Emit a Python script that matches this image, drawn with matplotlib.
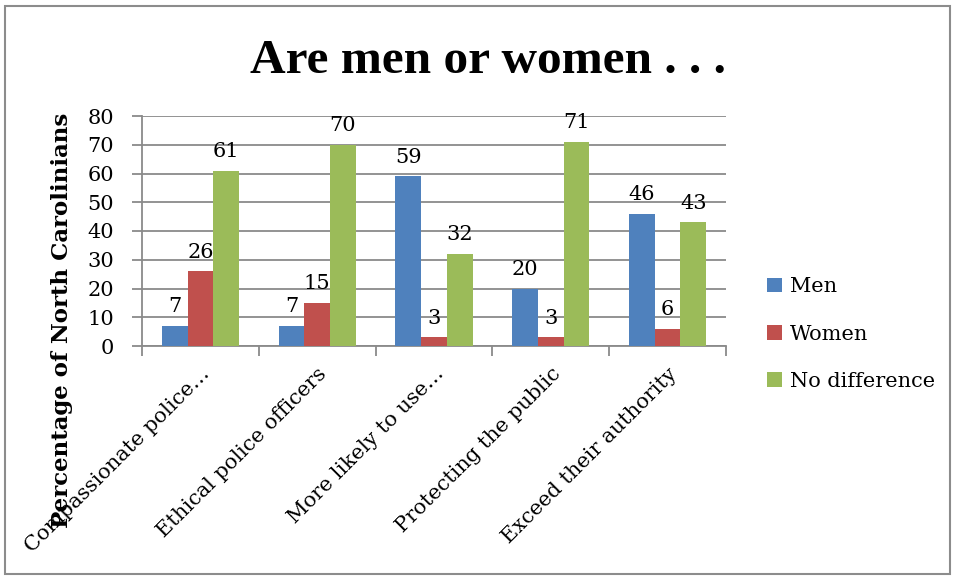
import numpy as np
import matplotlib.pyplot as plt
from matplotlib.patches import Rectangle
from matplotlib.transforms import ScaledTranslation

categories = ["Compassionate police\u2026", "Ethical police officers", "More likely to use\u2026",
              "Protecting the public", "Exceed their authority"]
men = [7, 7, 59, 20, 46]
women = [26, 15, 3, 3, 6]
no_difference = [61, 70, 32, 71, 43]

series = [("Men", men, "#4F81BD"),
          ("Women", women, "#C0504D"),
          ("No difference", no_difference, "#9BBB59")]

plt.rcParams['font.family'] = ['DejaVu Serif']

W, H = 956, 580
fig = plt.figure(figsize=(W / 100, H / 100), dpi=100)

# outer frame of the chart
fig.patches.append(Rectangle((5 / W, 6 / H), 945 / W, 568 / H, transform=fig.transFigure,
                             fill=False, edgecolor="#8c8c8c", linewidth=1.5))

ax = fig.add_axes([142 / W, 1 - 346 / H, (726 - 142) / W, (346 - 116) / H])

grid_color = "#8a8a8a"
x = np.arange(len(categories))
width = 0.22
for i, (name, vals, color) in enumerate(series):
    pos = x + (i - 1) * width
    bars = ax.bar(pos, vals, width=width, color=color, label=name, zorder=3)
    for b, v in zip(bars, vals):
        ax.annotate(str(v), (b.get_x() + b.get_width() / 2, v), xytext=(0, 7),
                    textcoords="offset points", ha="center", va="bottom", fontsize=15)

ax.set_xlim(-0.5, len(categories) - 0.5)
ax.set_ylim(0, 80)
ax.set_yticks(range(0, 81, 10))
ax.yaxis.grid(True, color=grid_color, linewidth=1.3, zorder=0)
ax.tick_params(axis="y", length=7, width=1.3, color=grid_color, labelsize=15, pad=13)

ax.set_xticks(x)
ax.set_xticks(np.arange(len(categories) + 1) - 0.5, minor=True)
ax.tick_params(axis="x", which="major", length=0, pad=6)
ax.tick_params(axis="x", which="minor", length=7, width=1.3, color=grid_color)
ax.set_xticklabels(categories, rotation=45, ha="right", va="top",
                   rotation_mode="anchor", fontsize=15)
# push the slanted labels a little lower
shift = ScaledTranslation(0, -10 / 100, fig.dpi_scale_trans)
for lbl in ax.get_xticklabels():
    lbl.set_transform(lbl.get_transform() + shift)

for side in ["top", "right"]:
    ax.spines[side].set_visible(False)
for side in ["left", "bottom"]:
    ax.spines[side].set_color(grid_color)
    ax.spines[side].set_linewidth(1.3)

fig.text(487.5 / W, 1 - 73 / H, "Are men or women . . .", ha="center", va="baseline",
         fontsize=35.5, fontweight="bold", family="Liberation Serif")
fig.text(62 / W, 1 - 320 / H, "Percentage of North Carolinians", rotation=90,
         ha="center", va="center", fontsize=16.5, fontweight="bold")

fig.legend(loc="center left", bbox_to_anchor=(757 / W, 1 - 334 / H), frameon=False,
           fontsize=15, handlelength=0.7, handleheight=0.7, handletextpad=0.4,
           labelspacing=1.35, borderpad=0)

fig.savefig("out.png", dpi=100)
